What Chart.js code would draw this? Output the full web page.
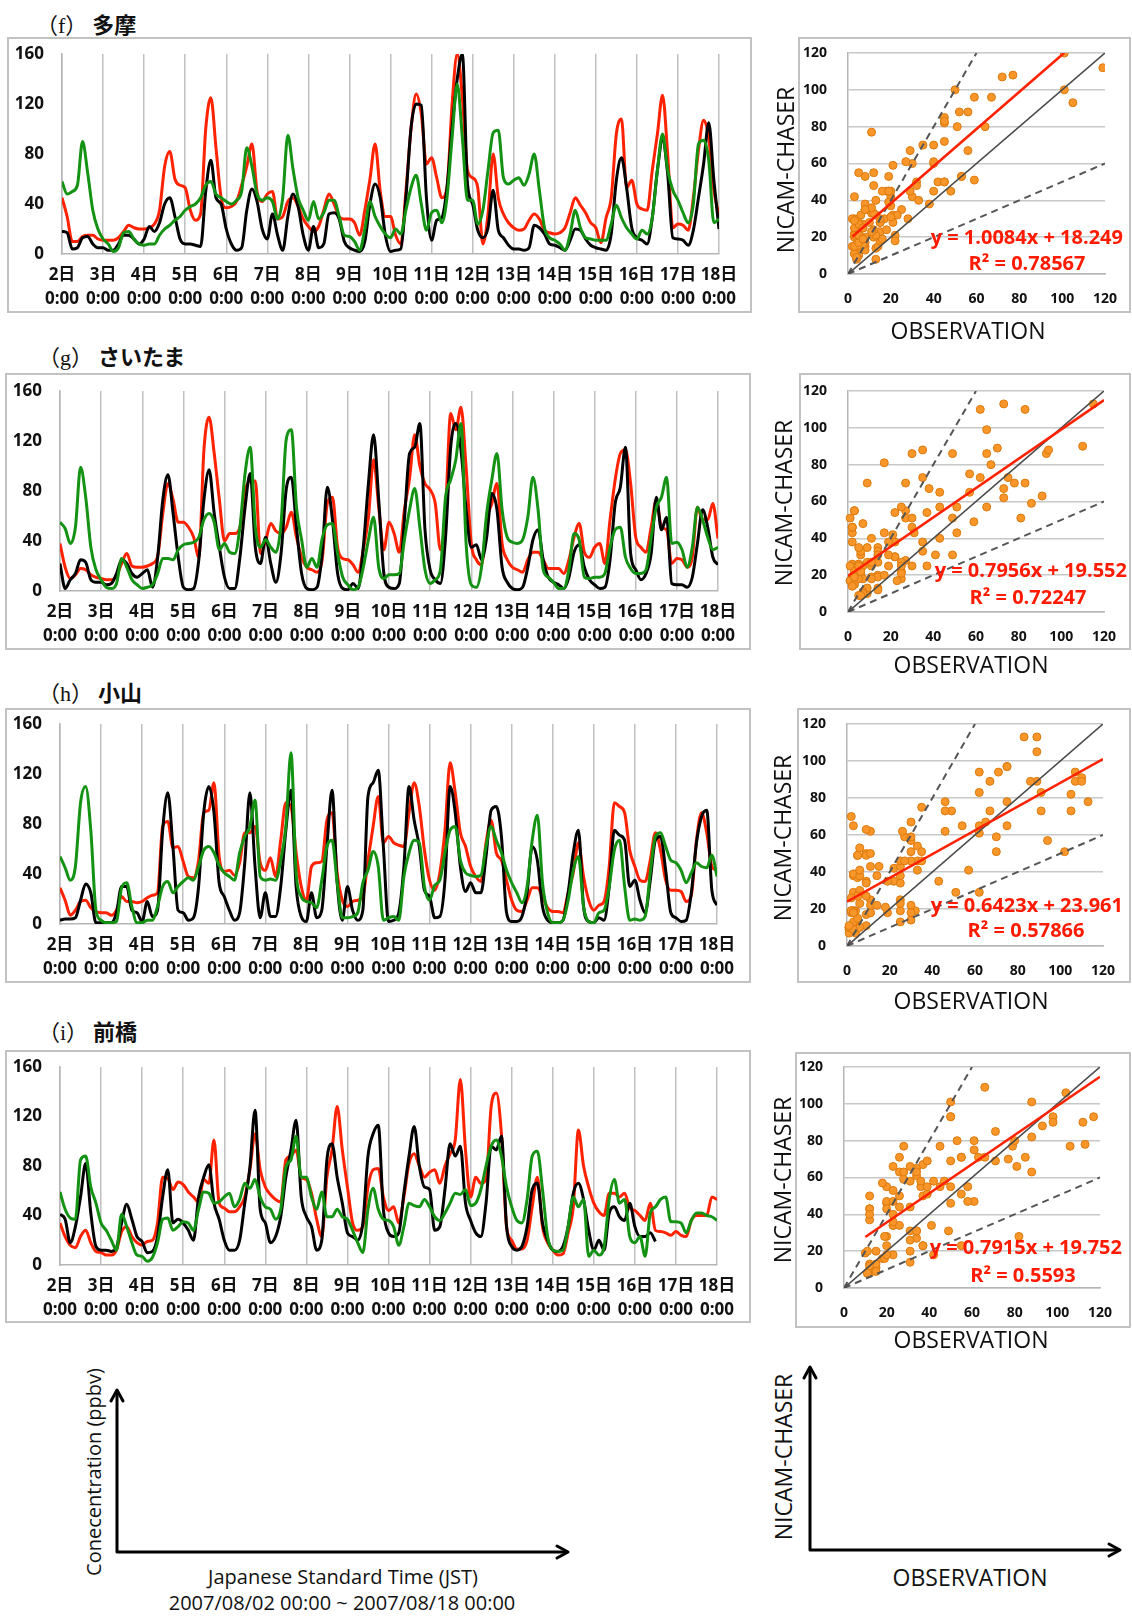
<!DOCTYPE html>
<html>
<head>
<meta charset="utf-8">
<script src="https://cdn.jsdelivr.net/npm/chart.js@4.4.1/dist/chart.umd.min.js"></script>
<style>
  body { margin: 0; width: 1132px; height: 1616px; position: relative; background: #fff; overflow: hidden;
         font-family: 'Open Sans', 'Noto Sans CJK JP', sans-serif; color: #111; }
  .abs { position: absolute; }
  .box { position: absolute; border: 2px solid #c2c2c2; box-sizing: border-box; pointer-events: none; }
  .title { position: absolute; font-family: 'Liberation Serif', 'Noto Sans CJK JP', serif; font-size: 22px;
           white-space: nowrap; transform: translateY(-50%); }
  .title b { font-family: 'Noto Sans CJK JP', sans-serif; font-weight: 600; }
  .axlab { position: absolute; font-size: 23px; white-space: nowrap; transform: translate(-50%, -50%); }
  .fit { position: absolute; color: #ff1a00; font-weight: 700; font-size: 20px; white-space: nowrap; line-height: 1; }
  .note { position: absolute; font-size: 20px; white-space: nowrap; transform: translate(-50%, -50%); }
  .axlab.rot, .note.rot { transform: translate(-50%, -50%) rotate(-90deg); }
</style>
</head>
<body>
<svg class="abs" style="left:0;top:0" width="1132" height="1616">
  <g stroke="#000" stroke-width="3" fill="none" stroke-linecap="round" stroke-linejoin="round">
    <polyline points="117,1391 117,1552 567,1552"/>
    <polyline points="111,1401 117,1390 123,1401"/>
    <polyline points="557,1546 568,1552 557,1558"/>
    <polyline points="810,1368 810,1550 1119,1550"/>
    <polyline points="804,1378 810,1367 816,1378"/>
    <polyline points="1109,1544 1120,1550 1109,1556"/>
  </g>
</svg>
<div class="note rot" style="left:93px;top:1472px">Conecentration (ppbv)</div>
<div class="note" style="left:343px;top:1576px">Japanese Standard Time (JST)</div>
<div class="note" style="left:342px;top:1602px">2007/08/02 00:00 ~ 2007/08/18 00:00</div>
<div class="axlab rot" style="left:783px;top:1457px">NICAM-CHASER</div>
<div class="axlab" style="left:970px;top:1577px">OBSERVATION</div>

<script>
// sampling: one value every 3 hours from 2日 0:00 to 18日 0:00
const STEP_H = 3;
const dayLabels = ['2日','3日','4日','5日','6日','7日','8日','9日','10日','11日','12日','13日','14日','15日','16日','17日','18日'];
const timeLabel = '0:00';
const concTicks = [0, 40, 80, 120, 160];
const scatTicks = [0, 20, 40, 60, 80, 100, 120];
const siteTags = ['（f）', '（g）', '（h）', '（i）'];
const siteNames = ['多摩', 'さいたま', '小山', '前橋'];

// (f) 多摩
const tamaChaser = [45,30,10,10,14,15,15,12, 11,11,11,13,18,23,21,20, 20,21,24,35,70,82,60,55, 53,35,27,32,100,125,85,45,
  37,38,42,55,70,88,50,42, 48,50,28,30,42,45,38,28, 22,18,22,35,48,40,30,28, 28,25,15,35,60,88,50,30,
  30,15,8,50,100,128,112,72, 77,61,45,53,120,160,125,67, 61,53,8,32,80,45,32,25, 21,19,20,27,32,28,19,17,
  16,17,21,33,45,39,33,25, 21,9,29,45,96,108,53,59, 40,36,35,67,96,127,80,21, 24,23,19,45,83,107,93,51, 31];
const tamaObs = [18,17,4,5,13,14,8,5, 5,3,3,8,15,15,12,8, 12,22,18,25,40,45,30,12, 8,8,7,6,50,75,45,40,
  20,8,3,5,35,52,42,20, 12,32,15,3,30,48,38,15, 3,22,5,8,32,33,28,10, 5,3,2,10,40,56,45,15,
  2,3,4,45,101,120,119,45, 11,27,29,53,101,140,160,56, 40,19,13,21,51,19,13,7, 4,4,3,5,23,21,16,8,
  7,5,3,11,20,19,12,7, 5,4,3,16,59,77,53,21, 13,11,8,29,67,91,64,13, 12,11,7,19,45,72,105,59, 20];
const tamaOther = [58,48,50,55,90,65,35,20, 12,8,2,5,17,18,12,8, 7,8,8,15,20,23,27,30, 35,38,40,45,55,58,48,45,
  42,40,43,50,85,70,48,43, 45,42,28,45,95,68,45,35, 27,42,28,33,43,43,30,15, 14,10,3,20,42,30,22,16,
  13,20,16,35,53,63,40,19, 33,35,25,45,93,136,93,43, 43,24,35,67,97,99,61,56, 59,61,55,64,80,51,21,13,
  11,8,3,16,35,21,13,12, 11,11,11,24,39,29,21,16, 12,19,16,29,67,96,67,51, 43,33,25,40,88,91,75,25, 28];

// (g) さいたま
const saitamaChaser = [38,19,10,13,18,17,13,11, 10,9,9,12,22,30,20,19, 19,20,22,28,62,86,73,55, 55,51,43,27,113,139,110,73,
  40,46,46,51,80,88,88,30, 40,54,48,46,51,63,43,27, 19,17,15,25,70,75,35,26, 25,21,15,33,59,105,67,33,
  55,46,31,65,90,125,100,86, 81,70,33,65,142,129,147,99, 38,25,21,57,70,86,38,25, 19,17,15,25,31,31,25,18,
  18,18,14,25,43,54,31,27, 35,38,22,57,89,110,113,86, 43,35,31,51,73,51,49,22, 26,25,19,27,67,57,57,70, 42];
const saitamaObs = [22,2,9,14,25,23,9,7, 7,5,6,14,25,22,14,11, 14,17,3,27,73,93,62,27, 3,1,2,25,73,97,62,35,
  11,2,2,27,67,94,35,22, 43,22,7,30,81,91,51,14, 2,1,3,30,83,57,14,2, 1,6,2,35,86,125,73,14,
  3,2,6,57,110,115,134,49, 17,9,6,43,115,134,113,65, 35,37,25,43,78,65,19,7, 2,1,3,19,41,49,25,11,
  7,5,2,11,31,37,19,9, 5,2,3,25,70,83,115,30, 17,9,14,30,75,49,59,6, 5,5,3,11,38,65,51,27, 21];
const saitamaOther = [55,50,38,51,99,75,35,17, 9,3,2,6,26,19,9,5, 2,3,5,14,26,26,25,33, 37,38,39,43,57,62,55,33,
  38,31,30,51,94,115,51,35, 41,35,31,54,121,129,67,41, 19,26,19,42,53,54,30,11, 5,1,3,19,41,59,19,10,
  13,13,14,41,65,82,51,17, 6,9,17,75,89,105,134,38, 5,3,19,62,89,110,65,43, 39,38,41,59,91,65,17,11,
  7,2,2,17,46,41,11,10, 11,11,14,35,49,51,27,18, 14,14,17,43,67,75,91,38, 39,33,19,35,67,57,43,33, 35];

// (h) 小山
const oyamaChaser = [29,19,7,11,18,19,13,10, 9,9,7,11,22,18,18,17, 18,21,23,25,78,82,61,62, 50,38,37,51,89,91,113,54,
  42,43,39,49,73,73,78,49, 43,53,38,67,97,94,57,30, 19,46,49,50,83,89,41,19, 14,18,19,22,51,78,102,65,
  70,65,63,62,89,113,94,59, 35,27,41,75,129,105,73,62, 46,38,34,65,83,57,51,35, 19,11,10,19,29,29,22,13,
  10,10,9,25,41,65,38,19, 11,15,18,46,97,94,89,59, 46,35,34,51,73,59,35,27, 27,26,18,23,67,89,73,46, 43];
const oyamaObs = [3,4,4,5,19,32,25,1, 1,1,1,9,30,30,11,9, 2,18,6,11,75,105,62,11, 9,3,5,30,89,110,89,33,
  22,11,3,9,49,105,46,5, 25,6,6,30,75,107,30,6, 2,25,5,11,62,107,33,3, 30,11,3,11,102,113,123,62,
  2,3,9,46,110,83,62,27, 22,5,6,35,110,89,46,26, 33,25,25,54,91,94,70,9, 2,2,6,25,62,51,14,3,
  1,1,3,25,57,75,14,2, 1,5,3,30,75,71,67,30, 35,19,9,35,67,70,43,9, 5,2,3,25,65,86,91,27, 15];
const oyamaOther = [54,45,35,46,97,110,75,11, 3,1,1,2,29,33,14,1, 1,3,3,14,30,34,25,30, 34,37,35,46,59,62,57,47,
  41,38,35,57,70,78,99,38, 35,36,35,51,78,137,41,22, 18,17,13,35,62,67,33,5, 5,6,9,33,43,58,46,3,
  5,6,3,38,57,67,65,30, 19,31,35,57,75,78,51,41, 39,38,39,62,78,67,57,43, 33,25,17,30,67,87,33,9,
  1,1,3,19,43,54,14,2, 1,9,11,30,59,67,30,3, 4,3,6,41,70,73,62,51, 49,43,33,41,49,46,45,55, 38];

// (i) 前橋
const maebashiChaser = [34,23,16,14,23,28,18,11, 10,8,8,12,27,31,23,18, 16,19,20,34,71,70,61,67, 65,59,55,51,69,66,101,50,
  46,43,43,47,55,77,106,77, 63,57,53,51,85,88,93,71, 69,58,37,23,71,93,128,93, 63,34,28,31,63,77,78,55,
  44,47,34,55,82,90,80,71, 75,77,66,80,90,101,150,93, 55,71,66,69,128,139,106,31, 20,13,13,20,47,71,31,18,
  12,8,9,26,47,109,80,63, 50,43,40,58,58,55,58,46, 44,40,36,50,28,27,26,24, 27,24,23,36,40,40,40,55, 53];
const maebashiObs = [41,37,18,31,55,82,42,15, 12,12,11,14,34,49,37,23, 19,10,11,23,55,77,34,37, 34,28,20,55,71,81,50,37,
  20,12,12,20,50,79,125,45, 34,18,23,39,71,93,117,55, 39,31,12,20,85,98,71,50, 26,23,20,34,88,106,113,45,
  26,23,26,58,88,112,80,63, 61,28,31,61,98,88,96,50, 36,26,23,50,96,93,104,31, 15,12,15,31,61,66,34,20,
  12,11,15,31,58,66,53,28, 12,20,12,42,47,39,36,50, 31,23,23,26,19,null,null,null,
  null,null,null,null,null,null,null,null, null];
const maebashiOther = [59,45,38,37,85,88,63,50, 34,28,20,12,41,31,18,8, 7,3,6,18,37,38,28,31, 35,34,28,45,59,58,50,51,
  55,58,47,53,66,62,69,55, 47,45,37,45,79,85,104,71, 71,55,45,59,39,39,45,39, 37,28,18,10,45,62,45,37,
  36,31,16,31,50,48,47,53, 47,39,36,42,50,58,57,61, 48,50,61,80,96,101,88,63, 47,36,34,53,88,92,61,23,
  12,11,12,31,55,47,53,7, 12,8,15,53,69,50,53,23, 18,23,7,42,47,53,55,35, 35,34,26,36,42,42,40,39, 36];

// regression of NICAM-CHASER on OBSERVATION, as printed in each panel
const fitSlope = [1.0084, 0.7956, 0.6423, 0.7915];
const fitIntercept = [18.249, 19.552, 23.961, 19.752];
const fitR2 = ['0.78567', '0.72247', '0.57866', '0.5593'];
const fitFromX = [2, 0, 0, 10];
const refSlopes = [1, 2, 0.5];

const sites = [
  { chaser: tamaChaser, obs: tamaObs, other: tamaOther },
  { chaser: saitamaChaser, obs: saitamaObs, other: saitamaOther },
  { chaser: oyamaChaser, obs: oyamaObs, other: oyamaOther },
  { chaser: maebashiChaser, obs: maebashiObs, other: maebashiOther },
];

// page geometry (full-size pixels): box = [left, top, width, height], area = [x1, y1, x2, y2]
const layout = [
  { title: [36, 23], tsBox: [7, 37, 745, 276], tsArea: [62, 54, 719, 254],
    scBox: [798, 37, 333, 276], scArea: [848, 53, 1105, 274], yLab: [785, 170], xLab: [968, 330], fit1: [1123, 237], fit2: [1027, 263] },
  { title: [38, 355], tsBox: [5, 373, 746, 277], tsArea: [60, 391, 718, 591],
    scBox: [799, 373, 332, 277], scArea: [848, 391, 1104, 612], yLab: [783, 503], xLab: [971, 664], fit1: [1127, 570], fit2: [1028, 597] },
  { title: [38, 691], tsBox: [5, 708, 746, 275], tsArea: [60, 724, 717, 924],
    scBox: [797, 708, 334, 275], scArea: [847, 724, 1103, 946], yLab: [782, 838], xLab: [971, 1000], fit1: [1123, 905], fit2: [1026, 930] },
  { title: [38, 1030], tsBox: [5, 1050, 746, 273], tsArea: [60, 1067, 717, 1265],
    scBox: [795, 1052, 336, 276], scArea: [844, 1067, 1100, 1288], yLab: [782, 1180], xLab: [971, 1339], fit1: [1122, 1247], fit2: [1023, 1275] },
];

const RED = '#ff2200';
const GREEN = '#139213';
const FONT = "'Open Sans', 'Noto Sans CJK JP', sans-serif";
const AX_MAX = scatTicks[scatTicks.length - 1];

function addEl(tag, cls, css, text) {
  const el = document.createElement(tag);
  if (cls) el.className = cls;
  el.style.cssText = css;
  if (text) el.textContent = text;
  document.body.appendChild(el);
  return el;
}

function chartHolder(box) {
  const d = addEl('div', 'abs', `left:${box[0]}px;top:${box[1]}px;width:${box[2]}px;height:${box[3]}px;`);
  const c = document.createElement('canvas');
  d.appendChild(c);
  addEl('div', 'box', `left:${box[0]}px;top:${box[1]}px;width:${box[2]}px;height:${box[3]}px;`);
  return c;
}

const toPts = arr => arr.map((v, i) => ({ x: i * STEP_H, y: v }));

// pin the plot area: fixed axis thickness, no extra label padding
const fixX = B => sc => { sc.height = B; sc.paddingLeft = 0; sc.paddingRight = 0; };
const fixY = L => sc => { sc.width = L; sc.paddingTop = 0; sc.paddingBottom = 0; };

function timeSeries(canvas, box, area, s) {
  const L = area[0] - box[0], T = area[1] - box[1];
  const R = box[0] + box[2] - area[2], B = box[1] + box[3] - area[3];
  const hoursMax = (dayLabels.length - 1) * 24;
  new Chart(canvas, {
    type: 'line',
    data: {
      datasets: [
        { data: toPts(s.other), borderColor: GREEN, order: 0 },
        { data: toPts(s.obs), borderColor: '#000', order: 1 },
        { data: toPts(s.chaser), borderColor: RED, order: 2 },
      ]
    },
    options: {
      animation: false, responsive: true, maintainAspectRatio: false,
      layout: { padding: { left: 0, top: T, right: R, bottom: 0 } },
      plugins: { legend: { display: false }, tooltip: { enabled: false } },
      elements: { point: { radius: 0 }, line: { borderWidth: 3, cubicInterpolationMode: 'monotone' } },
      scales: {
        x: {
          type: 'linear', min: 0, max: hoursMax,
          ticks: { stepSize: 24, maxTicksLimit: 30, autoSkip: false, maxRotation: 0, padding: 9, color: '#111',
                   font: { family: FONT, size: 17, weight: 'bold', lineHeight: 1.42 },
                   callback: v => [dayLabels[Math.round(v / 24)], timeLabel] },
          grid: { color: '#c0c0c0', lineWidth: 1.5, drawTicks: false },
          border: { color: '#b5b5b5', width: 1.5 },
          afterFit: fixX(B)
        },
        y: {
          min: concTicks[0], max: concTicks[concTicks.length - 1],
          afterBuildTicks: sc => { sc.ticks = concTicks.map(v => ({ value: v })); },
          ticks: { padding: 18, color: '#111', font: { family: FONT, size: 17, weight: 'bold' } },
          grid: { display: false, drawTicks: false },
          border: { color: '#b5b5b5', width: 1.5 },
          afterFit: fixY(L)
        }
      }
    }
  });
}

function scatter(canvas, box, area, s, k) {
  const L = area[0] - box[0], T = area[1] - box[1];
  const R = box[0] + box[2] - area[2], B = box[1] + box[3] - area[3];
  const pairs = [];
  s.obs.forEach((o, i) => { if (o !== null && s.chaser[i] !== null) pairs.push({ x: o, y: s.chaser[i] }); });
  const lineTo = (m, c, x0) => {
    const x1 = Math.min(AX_MAX, (AX_MAX - c) / m);
    return [{ x: x0, y: m * x0 + c }, { x: x1, y: m * x1 + c }];
  };
  const refSets = refSlopes.map(m => ({
    data: lineTo(m, 0, 0), showLine: true, pointRadius: 0, order: 1,
    borderColor: m === 1 ? '#4a4a4a' : '#555', borderWidth: m === 1 ? 1.6 : 2,
    borderDash: m === 1 ? [] : [7, 5]
  }));
  new Chart(canvas, {
    type: 'scatter',
    data: {
      datasets: [
        { data: pairs, pointRadius: 4, pointBackgroundColor: '#f8962a', pointBorderColor: '#dd7a0e',
          pointBorderWidth: 1, order: 3, clip: { left: 5, top: 0, right: 0, bottom: 5 } },
        ...refSets,
        { data: lineTo(fitSlope[k], fitIntercept[k], fitFromX[k]), showLine: true, pointRadius: 0,
          borderColor: RED, borderWidth: 2.6, order: 0 }
      ]
    },
    options: {
      animation: false, responsive: true, maintainAspectRatio: false,
      layout: { padding: { left: 0, top: T, right: R, bottom: 0 } },
      plugins: { legend: { display: false }, tooltip: { enabled: false } },
      scales: {
        x: {
          type: 'linear', min: 0, max: AX_MAX,
          afterBuildTicks: sc => { sc.ticks = scatTicks.map(v => ({ value: v })); },
          ticks: { padding: 17, color: '#111', maxRotation: 0, font: { family: FONT, size: 14, weight: 'bold' } },
          grid: { display: false, drawTicks: false },
          border: { color: '#b5b5b5', width: 1.5 },
          afterFit: fixX(B)
        },
        y: {
          min: 0, max: AX_MAX,
          afterBuildTicks: sc => { sc.ticks = scatTicks.map(v => ({ value: v })); },
          ticks: { padding: 21, color: '#111', font: { family: FONT, size: 14, weight: 'bold' } },
          grid: { color: '#c8c8c8', lineWidth: 1.5, drawTicks: false },
          border: { color: '#b5b5b5', width: 1.5 },
          afterFit: fixY(L)
        }
      }
    }
  });
}

layout.forEach((g, k) => {
  const t = addEl('div', 'title', `left:${g.title[0]}px;top:${g.title[1]}px;`, siteTags[k]);
  const name = document.createElement('b');
  name.textContent = ' ' + siteNames[k];
  t.appendChild(name);
  timeSeries(chartHolder(g.tsBox), g.tsBox, g.tsArea, sites[k]);
  scatter(chartHolder(g.scBox), g.scBox, g.scArea, sites[k], k);
  addEl('div', 'axlab rot', `left:${g.yLab[0]}px;top:${g.yLab[1]}px;`, 'NICAM-CHASER');
  addEl('div', 'axlab', `left:${g.xLab[0]}px;top:${g.xLab[1]}px;`, 'OBSERVATION');
  addEl('div', 'fit', `right:${1132 - g.fit1[0]}px;top:${g.fit1[1]}px;transform:translateY(-50%);`,
        `y = ${fitSlope[k]}x + ${fitIntercept[k]}`);
  addEl('div', 'fit', `left:${g.fit2[0]}px;top:${g.fit2[1]}px;transform:translate(-50%,-50%);`,
        `R² = ${fitR2[k]}`);
});
</script>
</body>
</html>
